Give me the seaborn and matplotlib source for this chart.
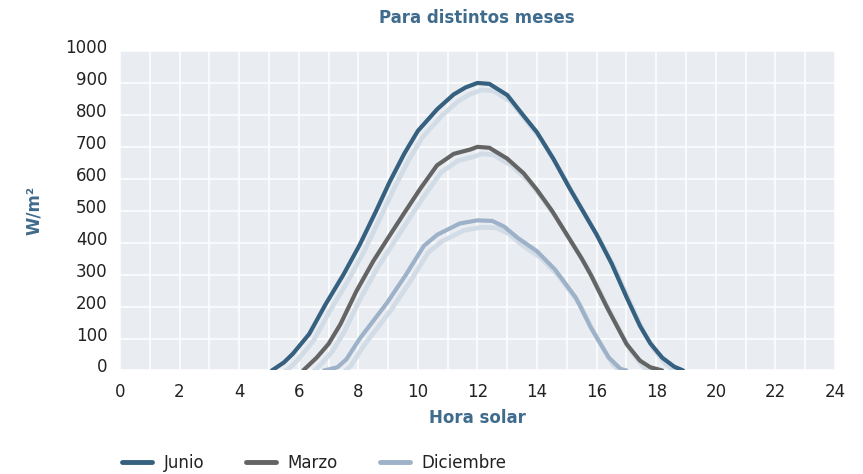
import matplotlib.pyplot as plt
import matplotlib.patheffects as pe
import numpy as np
import pandas as pd
import seaborn as sns
from matplotlib.lines import Line2D
from matplotlib.transforms import ScaledTranslation

horas_junio = [5.1, 5.5, 5.8, 6.35, 6.9, 7.5, 8.05, 8.6, 9.05, 9.55, 10.0, 10.65, 11.2, 11.6, 12.0,
               12.4, 13.0, 13.55, 14.0, 14.55, 15.1, 15.55, 16.0, 16.5, 17.0, 17.45, 17.8, 18.2, 18.6, 18.9]
junio = [0, 25, 52, 114, 207, 300, 394, 500, 590, 680, 750, 818, 864, 886, 900,
         897, 862, 797, 745, 662, 569, 497, 425, 335, 230, 140, 85, 40, 12, 0]

horas_marzo = [6.15, 6.6, 7.0, 7.4, 7.94, 8.5, 9.0, 9.57, 10.08, 10.64, 11.2, 11.77, 12.0, 12.4,
               13.0, 13.55, 14.0, 14.5, 15.0, 15.5, 15.8, 16.35, 17.0, 17.45, 17.8, 18.2]
marzo = [0, 40, 83, 145, 249, 342, 415, 497, 569, 642, 678, 692, 700, 697,
         663, 617, 565, 500, 425, 350, 300, 197, 83, 31, 10, 0]

horas_dic = [6.85, 7.3, 7.6, 8.05, 8.5, 8.95, 9.6, 10.2, 10.65, 11.4, 12.0, 12.5, 12.9, 13.35,
             14.0, 14.6, 15.3, 15.8, 16.4, 16.8, 17.0]
diciembre = [0, 10, 35, 100, 155, 210, 300, 390, 425, 460, 470, 468, 450, 415,
             373, 316, 228, 135, 41, 5, 0]

meses = ['Junio', 'Marzo', 'Diciembre']
colores = ['#35607f', '#646464', '#9db2c8']
series = [(horas_junio, junio), (horas_marzo, marzo), (horas_dic, diciembre)]

titulo_color = '#3f6b8c'

sns.set_theme(style='darkgrid')
plt.rcParams['font.family'] = ['DejaVu Sans']

fig = plt.figure(figsize=(8.63, 4.74), dpi=100)
ax = fig.add_axes([0.139, 0.2184, 0.8286, 0.674])
ax.set_facecolor('#e9ecf1')

for (h, v), mes, col in zip(series, meses, colores):
    df = pd.DataFrame({'hora': h, 'w': v})
    sns.lineplot(data=df, x='hora', y='w', color=col, linewidth=3.0, ax=ax, legend=False)
    ax.lines[-1].set_path_effects([
        pe.SimpleLineShadow(offset=(3, -5), shadow_color='#d2dce6', alpha=1, linewidth=3.4),
        pe.Normal()])

ax.set_xlim(0, 24)
ax.set_ylim(0, 1000)
ax.set_xticks(np.arange(0, 25, 2))
ax.set_xticks(np.arange(1, 24, 2), minor=True)
ax.set_yticks(np.arange(0, 1001, 100))
ax.grid(True, which='both', color='white', linewidth=1.1)
for s in ax.spines.values():
    s.set_visible(False)
ax.tick_params(axis='both', which='both', length=0, labelsize=12, labelcolor='#222222')
ax.tick_params(axis='x', pad=9)
ax.tick_params(axis='y', pad=9)
for lab in ax.get_yticklabels():
    lab.set_transform(lab.get_transform() + ScaledTranslation(0, 0.05, fig.dpi_scale_trans))

ax.set_xlabel('Hora solar', fontsize=12, fontweight='bold', color=titulo_color, labelpad=6)
ax.set_ylabel('')
fig.text(0.039, 0.555, 'W/m²', rotation=90, fontsize=12, fontweight='bold',
         color=titulo_color, ha='center', va='center')
fig.text(0.553, 0.962, 'Para distintos meses', fontsize=12, fontweight='bold',
         color=titulo_color, ha='center', va='center')

handles = [Line2D([], [], color=c, linewidth=3.5) for c in colores]
fig.legend(handles, meses, loc='center left', bbox_to_anchor=(0.132, 0.023), ncol=3,
           frameon=False, fontsize=12, handlelength=1.8, handletextpad=0.7,
           columnspacing=2.5, borderpad=0, labelcolor='#222222')

fig.savefig('out.png', dpi=100)
